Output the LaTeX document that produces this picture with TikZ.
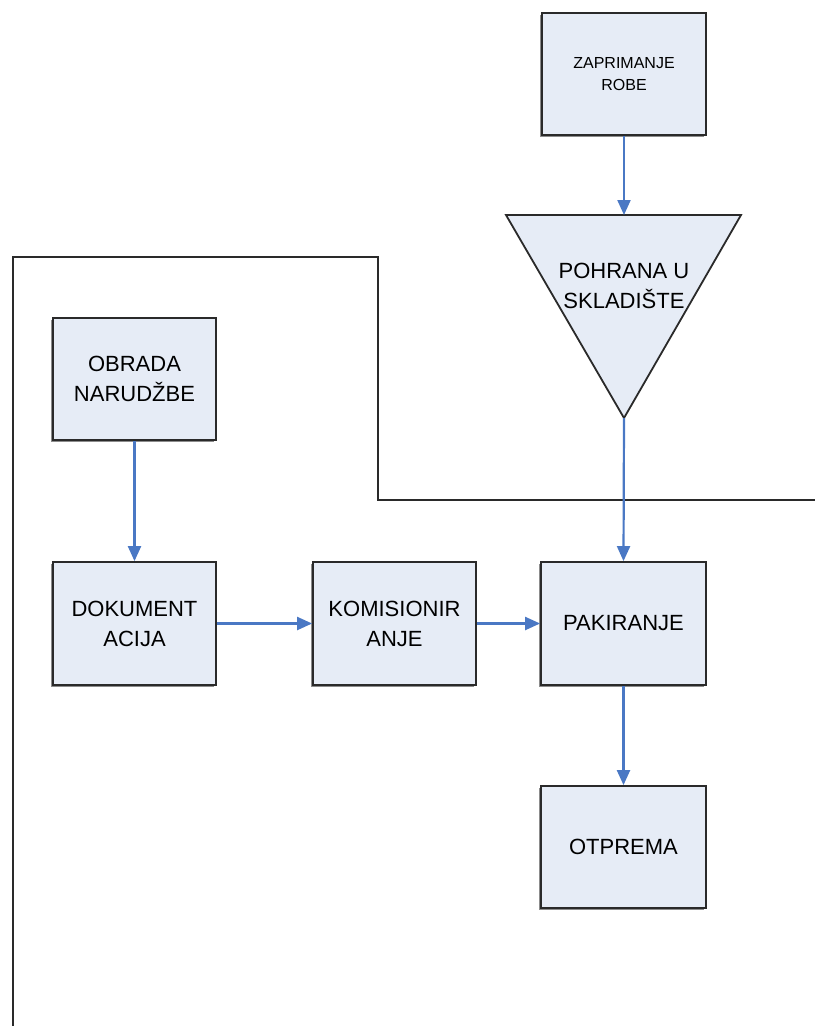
\documentclass[tikz,border=0pt]{standalone}
\usepackage{fontspec}
\setmainfont{Liberation Sans}
\usetikzlibrary{arrows.meta,shadows}
\definecolor{boxfill}{HTML}{E6ECF6}
\definecolor{arrowblue}{HTML}{4A78C4}
\definecolor{edgegray}{HTML}{2A2A2A}
\begin{document}
\begin{tikzpicture}[x=1pt,y=-1pt,
  procbox/.style={draw=edgegray, line width=1.8pt, fill=boxfill, minimum width=164pt, minimum height=122pt,
    inner sep=0pt, align=center, font=\fontsize{22}{30}\selectfont,
    general shadow={shadow xshift=-1.6pt, shadow yshift=-1.6pt, fill=black!45}},
  flow/.style={draw=arrowblue, line width=2.2pt, -{Triangle[length=15pt,width=13pt]}},
  bound/.style={draw=edgegray, line width=1.8pt}]
\useasboundingbox (0,0) rectangle (815,1026);
% boundary line
\draw[bound] (13,1026) -- (13,257) -- (378,257) -- (378,500) -- (815,500);
% triangle
\draw[draw=edgegray, line width=1.8pt, fill=boxfill] (506,215) -- (741,215) -- (624,418) -- cycle;
\coordinate (tritop) at (624,215);
\coordinate (triapex) at (624,418);
\node[align=center, font=\fontsize{22}{30}\selectfont] (pohrana) at (624,286) {POHRANA U\\SKLADIŠTE};
% boxes
\node[procbox, font=\fontsize{16}{22}\selectfont] (zap) at (624,74) {ZAPRIMANJE\\ROBE};
\node[procbox, minimum width=163pt] (obr) at (134.5,379) {OBRADA\\NARUDŽBE};
\node[procbox, minimum width=163pt, minimum height=123pt] (dok) at (134.5,623.5) {DOKUMENT\\ACIJA};
\node[procbox, minimum width=163pt, minimum height=123pt] (kom) at (394.5,623.5) {KOMISIONIR\\ANJE};
\node[procbox, minimum width=165pt, minimum height=123pt] (pak) at (623.5,623.5) {PAKIRANJE};
\node[procbox, minimum width=165pt] (otp) at (623.5,847) {OTPREMA};
% arrows
\draw[flow] (zap.south) -- (tritop);
\draw[flow] (triapex) -- (pak.north);
\draw[flow] (obr.south) -- (dok.north);
\draw[flow] (dok.east) -- (kom.west);
\draw[flow] (kom.east) -- (pak.west);
\draw[flow] (pak.south) -- (otp.north);
\end{tikzpicture}
\end{document}
